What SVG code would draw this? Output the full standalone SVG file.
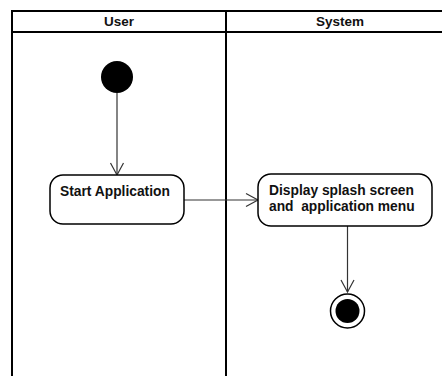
<svg xmlns="http://www.w3.org/2000/svg" width="442" height="376" viewBox="0 0 442 376">
  <style>
    .lane { fill: none; stroke: #000; stroke-width: 2; }
    .head { font-family: "Liberation Sans", Arial, sans-serif; font-size: 13.5px; font-weight: bold; fill: #111; text-anchor: middle; }
    .label { font-family: "Liberation Sans", Arial, sans-serif; font-size: 13.8px; font-weight: bold; fill: #111; }
    .action { fill: #fff; stroke: #000; stroke-width: 1.5; }
    .flow { fill: none; stroke: #333; stroke-width: 1.2; }
  </style>
  <defs>
    <marker id="open" markerWidth="16" markerHeight="16" refX="13" refY="8" orient="auto" markerUnits="userSpaceOnUse">
      <path d="M1,1.5 L13,8 L1,14.5" fill="none" stroke="#333" stroke-width="1.2"/>
    </marker>
  </defs>
  <rect width="442" height="376" fill="#fff"/>

  <!-- swimlane frame -->
  <g id="swimlanes">
    <rect class="lane" x="12" y="11" width="443" height="380"/>
    <line class="lane" x1="12" y1="32" x2="455" y2="32"/>
    <line class="lane" x1="226" y1="11" x2="226" y2="391"/>
    <text class="head" x="119" y="26">User</text>
    <text class="head" x="340" y="26">System</text>
  </g>

  <!-- control flows -->
  <g id="connectors">
    <line class="flow" x1="117" y1="93" x2="117" y2="175" marker-end="url(#open)"/>
    <line class="flow" x1="184" y1="200" x2="258" y2="200" marker-end="url(#open)"/>
    <line class="flow" x1="347.5" y1="226" x2="347.5" y2="292" marker-end="url(#open)"/>
  </g>

  <g id="start">
    <circle cx="117" cy="77" r="16" fill="#000"/>
  </g>

  <g id="start-application">
    <rect class="action" x="50" y="175" width="134" height="49" rx="13"/>
    <text class="label" x="60" y="196">Start Application</text>
  </g>

  <g id="display-splash">
    <rect class="action" x="258" y="174" width="174" height="52" rx="13"/>
    <text class="label" x="269" y="195">Display splash screen</text>
    <text class="label" x="269" y="211" xml:space="preserve">and  application menu</text>
  </g>

  <g id="end">
    <circle cx="347.5" cy="311" r="17" fill="#fff" stroke="#000" stroke-width="1.5"/>
    <circle cx="347.5" cy="311" r="12" fill="#000"/>
  </g>
</svg>
